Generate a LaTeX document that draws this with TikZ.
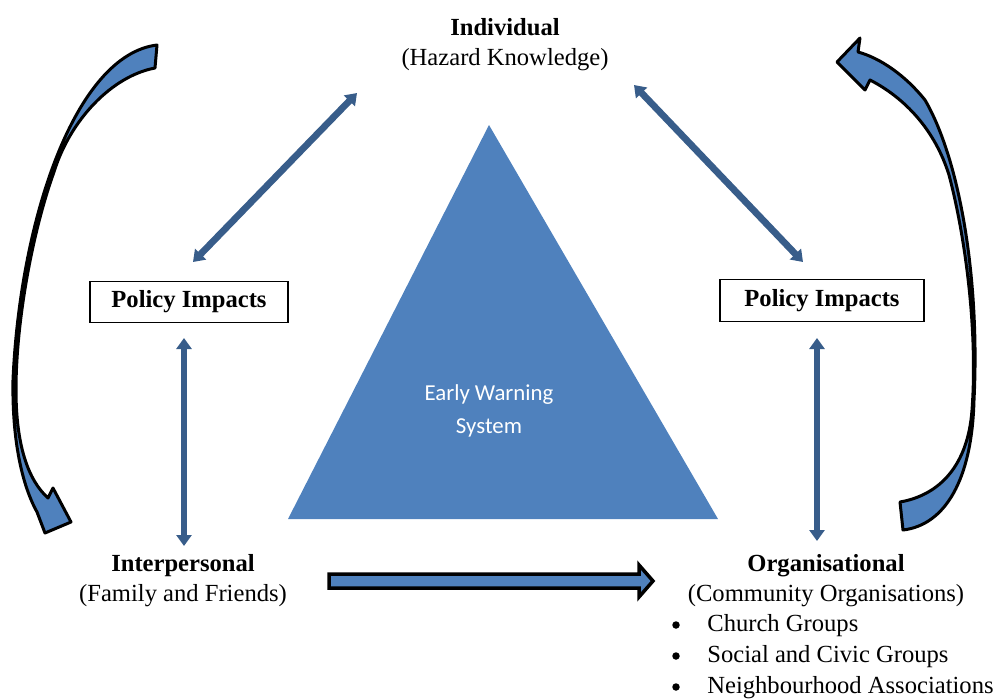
\documentclass[tikz,border=0pt]{standalone}
\usepackage{fontspec}
\setmainfont{Liberation Serif}
\newfontfamily\calibri{Carlito}
\usetikzlibrary{arrows.meta}
\definecolor{ewsblue}{RGB}{79,129,189}
\definecolor{linkblue}{RGB}{56,93,138}
\tikzstyle{polbox}=[shape = rectangle, draw, line width = 0.7pt, minimum height = 0.83cm, inner sep = 2pt, font = \fontsize{14pt}{17pt}\selectfont\bfseries]
\tikzstyle{levelText}=[align = center, inner sep = 0pt]
\tikzstyle{twoway}=[draw = linkblue, line width = 0.135cm, {Triangle[length=0.22cm,width=0.3cm]}-{Triangle[length=0.22cm,width=0.3cm]}]
\tikzstyle{bentArrow}=[fill = ewsblue, draw = black, line width = 0.06cm, line join = round]

\begin{document}
\begin{tikzpicture}[x = 0.02cm, y = -0.02cm, font = \fontsize{14pt}{17pt}\selectfont]
\tikzstyle{itemText}=[anchor = west, inner sep = 0pt]
\tikzstyle{dot}=[shape = circle, fill, inner sep = 0pt, minimum size = 0.15cm]
\tikzstyle{blockArrow}=[fill = ewsblue, draw = black, line width = 0.07cm, line join = miter]
\useasboundingbox (0,0) rectangle (998,698);
\fill[ewsblue] (489,125) coordinate (apex) -- (718,519) coordinate (baseR) -- (288,519) coordinate (baseL) -- cycle;
\node[levelText, text = white, font = \calibri\fontsize{13pt}{18.7pt}\selectfont] (ews) at (489,411) {Early Warning\\System};
\node[levelText] (indiv) at (505,45) {\textbf{Individual}\\(Hazard Knowledge)};
\node[levelText] (inter) at (183,581) {\textbf{Interpersonal}\\(Family and Friends)};
\node[levelText] (org) at (826,581) {\textbf{Organisational}\\(Community Organisations)};
\node[polbox, minimum width = 3.96cm] (polL) at (189,302) {Policy Impacts};
\node[polbox, minimum width = 4.08cm] (polR) at (822,300.5) {Policy Impacts};
\node[itemText] (b1) at (707,626) {Church Groups};
\node[itemText] (b2) at (707,657) {Social and Civic Groups};
\node[itemText] (b3) at (707,688) {Neighbourhood Associations};
\node[dot] (d1) at (676,625) {};
\node[dot] (d2) at (676,656) {};
\node[dot] (d3) at (676,687) {};
\coordinate (lu) at (357,93);
\coordinate (ld) at (193,262);
\coordinate (ru) at (634,85);
\coordinate (rd) at (803,262);
\coordinate (vlu) at (184,338);
\coordinate (vld) at (184,546);
\coordinate (vru) at (817,338);
\coordinate (vrd) at (817,541);
\draw[twoway] (lu) -- (ld);
\draw[twoway] (ru) -- (rd);
\draw[twoway] (vlu) -- (vld);
\draw[twoway] (vru) -- (vrd);
\draw[blockArrow] (329,574) -- (639,574) -- (639,565) -- (653,581) -- (639,597) -- (639,588) -- (329,588) -- cycle;
\draw[bentArrow] (157,45) -- (155,68) .. controls (112,76) and (70,120) .. (54,172)
  .. controls (33,230) and (16,320) .. (16,390) .. controls (16,445) and (28,480) .. (48,498)
  -- (53,488) -- (71,522) -- (45,533) -- (37,512)
  .. controls (22,485) and (12,440) .. (13,380) .. controls (20,220) and (75,55) .. (157,45) -- cycle;
\draw[bentArrow] (900,502) -- (903,530) .. controls (945,525) and (972,480) .. (974,400)
  .. controls (980,280) and (960,160) .. (925,100) .. controls (905,75) and (880,58) .. (858,52)
  -- (860,38) -- (837,62) -- (865,90) -- (870,80)
  .. controls (905,98) and (935,130) .. (949,175) .. controls (965,235) and (978,330) .. (972,410)
  .. controls (968,465) and (940,495) .. (900,502) -- cycle;
\end{tikzpicture}
\end{document}
